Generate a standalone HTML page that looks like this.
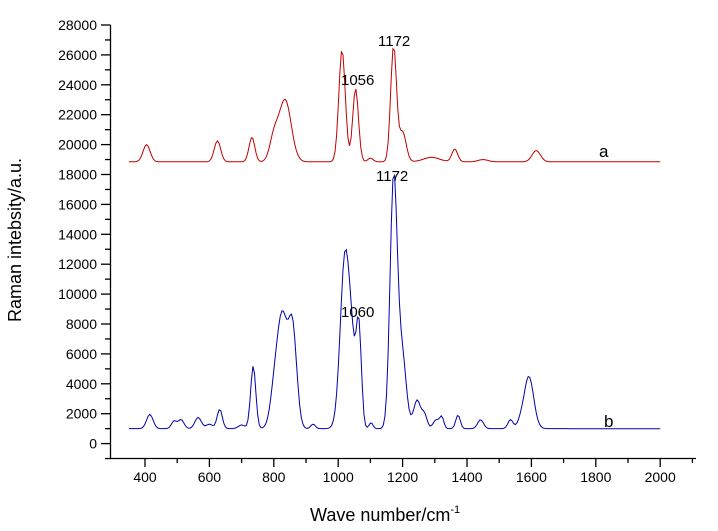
<!DOCTYPE html><html><head><style>body{margin:0;background:#fff}svg{font-family:"Liberation Sans",Arial,sans-serif}</style></head><body>
<svg id="s" width="718" height="526" xmlns="http://www.w3.org/2000/svg">
<g id="ax" stroke="#000" stroke-width="1.3" fill="none"></g>
<g id="lab" font-size="14" fill="#000"></g>
<polyline id="ra" fill="none" stroke="#c00000" stroke-width="1"/>
<polyline id="bl" fill="none" stroke="#0000b0" stroke-width="1"/>
<text x="378" y="46" font-size="15">1172</text>
<text x="341" y="85" font-size="15">1056</text>
<text x="599" y="157" font-size="17">a</text>
<text x="376" y="181" font-size="15">1172</text>
<text x="341" y="317" font-size="15">1060</text>
<text x="604" y="427" font-size="17">b</text>
<text x="310" y="521" font-size="18">Wave number/cm<tspan dy="-8" font-size="11">-1</tspan></text>
<text transform="translate(21,240) rotate(-90)" text-anchor="middle" font-size="18">Raman intebsity/a.u.</text>
</svg>
<script>
const X=v=>145+(v-400)*64.4/200, Y=v=>443.6-v*29.9/2000;
let ax=document.getElementById('ax'),lab=document.getElementById('lab'),h='',t='';
h+=`<path d="M110.5 25V458.5H696"/>`;
for(let v=-1000;v<=28000;v+=1000){let y=Y(v),maj=v%2000==0;h+=`<path d="M${maj?101:105} ${y}H110.5"/>`;if(maj&&v>=0)t+=`<text x="97" y="${y+5}" text-anchor="end">${v}</text>`;}
for(let v=400;v<=2100;v+=100){let x=X(v),maj=v%200==0;h+=`<path d="M${x} 458.5V${maj?467:463}"/>`;if(maj)t+=`<text x="${x}" y="482" text-anchor="middle">${v}</text>`;}
ax.innerHTML=h;lab.innerHTML=t;
function pts(base,pk){let p=[];for(let v=350;v<=2000;v+=5){let s=base;for(const[c,a,w]of pk)s+=a*Math.exp(-((v-c)**2)/(2*w*w));p.push(X(v).toFixed(1)+','+Y(s).toFixed(1));}return p.join(' ');}
document.getElementById('ra').setAttribute('points',pts(18850,[[405,1150,11],[625,1400,10],[732,1650,9],[800,1500,13],[835,4150,19],[1012,7500,10],[1054,4900,9],[1172,7700,9],[1200,2000,11],[1290,300,25],[1362,850,9],[1450,150,15],[1615,750,13],[1100,250,8]]));
document.getElementById('bl').setAttribute('points',pts(1000,[[415,950,10],[490,500,8],[512,600,9],[565,750,10],[600,300,10],[632,1300,8],[700,250,10],[736,4200,8],[805,3200,14],[828,6600,14],[858,6800,13],[922,300,7],[1022,11800,15],[1045,3000,10],[1064,6800,8],[1102,400,6],[1172,16500,11],[1198,5000,13],[1245,1900,11],[1268,900,8],[1305,600,10],[1322,700,6],[1372,900,7],[1442,600,9],[1535,600,8],[1592,3500,15],[1565,300,10]]));
</script>
</body></html>
